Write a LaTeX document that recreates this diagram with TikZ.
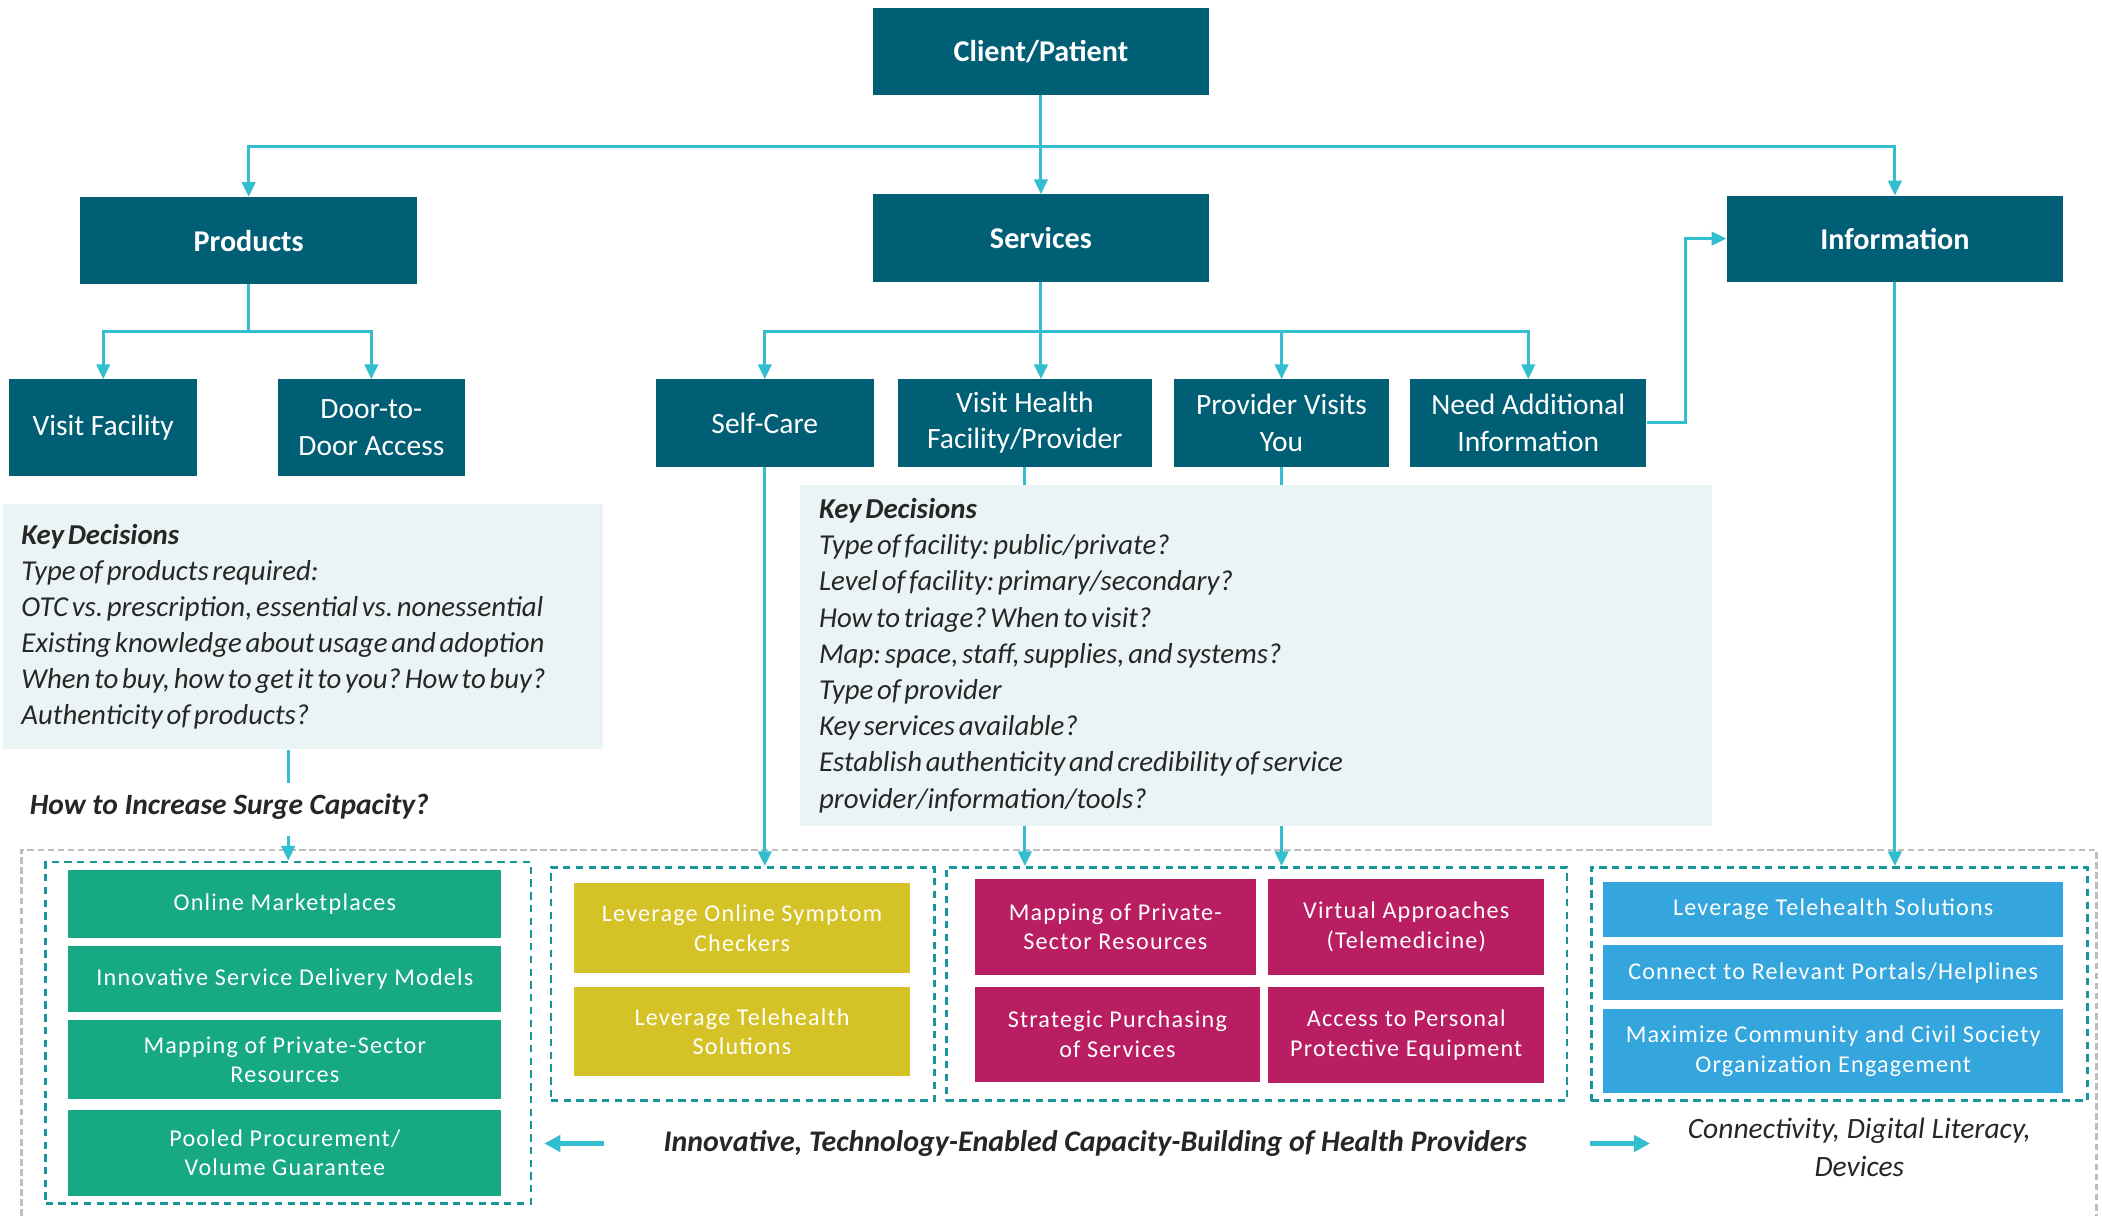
\documentclass[tikz,border=0pt]{standalone}
\usepackage{fontspec}
\setmainfont{Carlito}
\usetikzlibrary{arrows.meta}
\newcommand\tightsp{\spaceskip=0.13em plus 0.03em minus 0.03em\relax}
\definecolor{dk}{RGB}{0,94,117}
\definecolor{cy}{RGB}{50,190,206}
\definecolor{kf}{RGB}{234,244,245}
\definecolor{gr}{RGB}{23,168,132}
\definecolor{yl}{RGB}{213,194,38}
\definecolor{mg}{RGB}{185,30,98}
\definecolor{bl}{RGB}{52,165,221}
\definecolor{td}{RGB}{24,150,156}
\definecolor{gd}{RGB}{190,190,190}
\definecolor{tx}{RGB}{38,38,38}
\tikzset{
  darkbox/.style={fill=dk, text=white, inner sep=0pt, align=center, font=\fontsize{22}{27}\selectfont},
  titlebox/.style={darkbox, font=\bfseries\fontsize{22.5}{27}\selectfont, minimum width=251pt, minimum height=65pt},
  conn/.style={draw=cy, line width=2.2pt},
  arr/.style={conn, -{Triangle[length=11pt,width=10pt]}},
  barr/.style={draw=cy, line width=3.2pt, -{Triangle[length=12pt,width=12pt]}},
  kdbox/.style={fill=kf, inner xsep=14pt, inner ysep=0pt, align=left, text=tx, font=\itshape\fontsize{21.5}{27}\selectfont},
  tdbox/.style={draw=td, line width=2pt, dash pattern=on 5.5pt off 4pt},
  cbox/.style={text=white, inner sep=0pt, align=center, font=\fontsize{18}{22}\selectfont\addfontfeature{LetterSpace=5}},
  gbx/.style={cbox, fill=gr, minimum width=323pt},
  ybx/.style={cbox, fill=yl, minimum width=251pt, minimum height=67pt},
  mbx/.style={cbox, fill=mg},
  bbx/.style={cbox, fill=bl, minimum width=343pt},
}
\begin{document}
\frenchspacing
\begin{tikzpicture}[x=1pt,y=-1pt]
\useasboundingbox[fill=white] (0,0) rectangle (1568,907);

% top level
\node[titlebox] (client) at (776.5,38.5) {Client/Patient};
\node[titlebox] (products) at (185.5,179.5) {Products};
\node[titlebox] (services) at (776.5,177.5) {Services};
\node[titlebox, minimum height=64pt] (info) at (1413.5,178) {Information};

% second level
\node[darkbox, minimum width=140pt, minimum height=72pt] (vf) at (77,319) {Visit Facility};
\node[darkbox, minimum width=140pt, minimum height=72pt] (d2d) at (277,319) {Door-to-\\Door Access};
\node[darkbox, minimum width=163pt, minimum height=65pt] (selfcare) at (570.5,315.5) {Self-Care};
\node[darkbox, minimum width=189pt, minimum height=65pt] (visithealth) at (764.5,315.5) {Visit Health\\Facility/Provider};
\node[darkbox, minimum width=160pt, minimum height=65pt] (provider) at (956,315.5) {Provider Visits\\You};
\node[darkbox, minimum width=176pt, minimum height=65pt] (needinfo) at (1140,315.5) {Need Additional\\Information};

% connectors top
\coordinate (tbus) at (776.5,109);
\draw[conn] (client.south) -- (tbus);
\draw[arr] (tbus) -- (services.north);
\draw[arr] (tbus) -| (products.north);
\draw[arr] (tbus) -| (info.north);

\coordinate (pbus) at (185.5,247);
\draw[conn] (products.south) -- (pbus);
\draw[arr] (pbus) -| (vf.north);
\draw[arr] (pbus) -| (d2d.north);

\coordinate (sbus) at (776.5,247);
\draw[conn] (services.south) -- (sbus);
\draw[arr] (sbus) -| (selfcare.north);
\draw[arr] (sbus) -- (sbus |- visithealth.north);
\draw[arr] (sbus) -| (provider.north);
\draw[arr] (sbus) -| (needinfo.north);

\coordinate (nbend) at (1257,315.5);
\draw[arr] (needinfo.east) -- (nbend) |- (info.west);

% key decisions
\node[kdbox, minimum width=448pt, minimum height=183pt, text width=420pt] (kdl) at (226,467.5)
 {\tightsp\textbf{Key Decisions}\\
  Type of products required:\\
  \mbox{OTC vs. prescription, essential vs. nonessential}\\
  \mbox{Existing knowledge about usage and adoption}\\
  \mbox{When to buy, how to get it to you? How to buy?}\\
  Authenticity of products?};
\node[kdbox, minimum width=680pt, minimum height=254pt, text width=652pt] (kdr) at (937,489)
 {\tightsp\textbf{Key Decisions}\\
  Type of facility: public/private?\\
  Level of facility: primary/secondary?\\
  How to triage? When to visit?\\
  Map: space, staff, supplies, and systems?\\
  Type of provider\\
  Key services available?\\
  Establish authenticity and credibility of service\\
  provider/information/tools?};

% outer gray dashed frame
\draw[draw=gd, line width=2pt, dash pattern=on 5pt off 2.5pt] (16,907) -- (16,634) -- (1564,634) -- (1564,907);

% dashed group boxes
\node[tdbox, minimum width=362pt, minimum height=255pt] (gbox) at (215,770.5) {};
\node[tdbox, minimum width=286pt, minimum height=174pt] (ybox) at (554,734) {};
\node[tdbox, minimum width=463pt, minimum height=174pt] (mbox) at (937.5,734) {};
\node[tdbox, minimum width=370pt, minimum height=174pt] (bbox) at (1372,734) {};

% green
\node[gbx, minimum height=51pt] (g1) at (212.5,674.5) {Online Marketplaces};
\node[gbx, minimum height=49pt] (g2) at (212.5,730.5) {Innovative Service Delivery Models};
\node[gbx, minimum height=59pt] (g3) at (212.5,790.5) {Mapping of Private-Sector\\Resources};
\node[gbx, minimum height=64pt] (g4) at (212.5,860) {Pooled Procurement/\\Volume Guarantee};
% yellow
\node[ybx] (y1) at (553.5,692.5) {Leverage Online Symptom\\Checkers};
\node[ybx] (y2) at (553.5,769.5) {Leverage Telehealth\\Solutions};
% magenta
\node[mbx, minimum width=210pt, minimum height=71pt] (m1) at (832,691.5) {Mapping of Private-\\Sector Resources};
\node[mbx, minimum width=206pt, minimum height=71pt] (m2) at (1049,691.5) {Virtual Approaches\\(Telemedicine)};
\node[mbx, minimum width=213pt, minimum height=71pt] (m3) at (833.5,771.5) {Strategic Purchasing\\of Services};
\node[mbx, minimum width=206pt, minimum height=72pt] (m4) at (1049,772) {Access to Personal\\Protective Equipment};
% blue
\node[bbx, minimum height=41pt] (b1) at (1367.5,678.5) {Leverage Telehealth Solutions};
\node[bbx, minimum height=41pt] (b2) at (1367.5,725.5) {Connect to Relevant Portals/Helplines};
\node[bbx, minimum height=62pt] (b3) at (1367.5,784) {Maximize Community and Civil Society\\Organization Engagement};

% lower connectors
\draw[conn] (visithealth.south) -- (visithealth.south |- kdr.north);
\draw[arr] (visithealth.south |- kdr.south) -- (visithealth.south |- mbox.north);
\draw[conn] (provider.south) -- (provider.south |- kdr.north);
\draw[arr] (provider.south |- kdr.south) -- (provider.south |- mbox.north);
\draw[arr] (selfcare.south) -- (selfcare.south |- ybox.north);
\draw[arr] (info.south) -- (info.south |- bbox.north);

\node[font=\bfseries\itshape\fontsize{22}{24}\selectfont, text=tx, anchor=west, inner sep=0pt] (surge) at (22,602) {How to Increase Surge Capacity?};
\draw[conn] (kdl.south -| gbox.north) -- ([yshift=8pt]surge.north -| gbox.north);
\draw[arr] ([yshift=-12pt]surge.south -| gbox.north) -- (gbox.north);

% bottom texts
\node[font=\bfseries\itshape\fontsize{22.3}{24}\selectfont, text=tx, inner sep=0pt] (capbuild) at (817,853) {Innovative, Technology-Enabled Capacity-Building of Health Providers};
\node[font=\itshape\fontsize{22}{28}\selectfont, text=tx, inner sep=0pt, align=center] (connd) at (1387,856) {Connectivity, Digital Literacy,\\Devices};
\draw[barr] ([xshift=-44pt]capbuild.west) -- ([xshift=9pt]gbox.east |- capbuild.west);
\draw[barr] ([xshift=47pt]capbuild.east) -- ([xshift=-28pt]connd.west |- capbuild.east);
\end{tikzpicture}
\end{document}
